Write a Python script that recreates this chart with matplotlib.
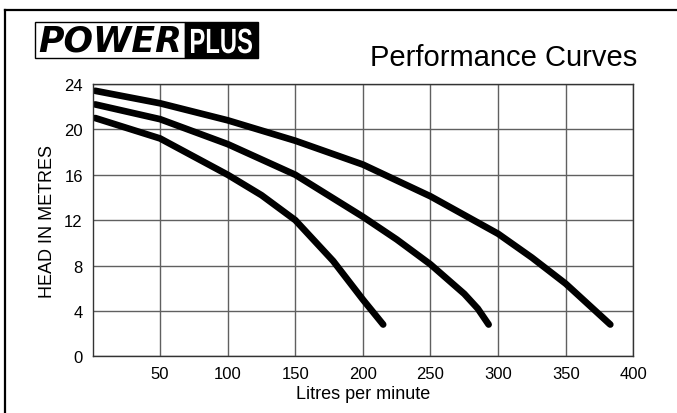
import matplotlib
matplotlib.use("Agg")
import matplotlib.pyplot as plt
from matplotlib.patches import Rectangle, PathPatch
from matplotlib.lines import Line2D
from matplotlib.textpath import TextPath
from matplotlib.font_manager import FontProperties
from matplotlib.transforms import Affine2D, IdentityTransform

plt.rcParams['font.family'] = ['Liberation Sans', 'DejaVu Sans']

# curves (litres per minute, head in metres)
top_x = [2, 50, 100, 150, 200, 250, 300, 325, 350, 383]
top_y = [23.4, 22.3, 20.8, 19.0, 16.9, 14.1, 10.8, 8.7, 6.4, 2.8]
mid_x = [2, 50, 100, 150, 200, 225, 250, 275, 285, 293]
mid_y = [22.2, 20.9, 18.7, 16.0, 12.3, 10.3, 8.1, 5.5, 4.2, 2.8]
low_x = [2, 50, 100, 125, 150, 178, 200, 215]
low_y = [21.0, 19.2, 16.0, 14.2, 12.0, 8.4, 5.0, 2.8]

x_ticks = [50, 100, 150, 200, 250, 300, 350, 400]
y_ticks = [0, 4, 8, 12, 16, 20, 24]

W, H = 677, 414
fig = plt.figure(figsize=(W / 100, H / 100), dpi=100)

def px(x, y):
    # pixel coords (from top-left) -> figure fraction
    return x / W, 1 - y / H

# page border: left and top edges only
fig.add_artist(Line2D([5 / W, 5 / W], [0, px(0, 11)[1]], color='black', lw=1.6))
fig.add_artist(Line2D([5 / W, 1], [px(0, 11)[1]] * 2, color='black', lw=1.6))

# logo
x0, y0 = px(35, 59)
fig.add_artist(Rectangle((x0, y0), 150 / W, 36 / H, facecolor='white',
                         edgecolor='black', lw=1.0))
fig.text(*px(110, 42), 'POWER', ha='center', va='center',
         fontsize=25, fontweight='heavy', fontstyle='italic', color='black',
         family='DejaVu Sans')
x0, y0 = px(185, 59)
fig.add_artist(Rectangle((x0, y0), 73 / W, 36 / H, facecolor='black',
                         edgecolor='black', lw=1.0))
# condensed "PLUS": squeeze a text path sideways
tp = TextPath((0, 0), 'PLUS', size=35,
              prop=FontProperties(family='Liberation Sans', weight='bold'))
bb = tp.get_extents()
sx = 61 / bb.width
tr = Affine2D().translate(-bb.x0 - bb.width / 2, 0).scale(sx, 1) \
    .translate(221.5, H - 54)
fig.add_artist(PathPatch(tr.transform_path(tp), facecolor='white',
                         edgecolor='none', transform=IdentityTransform()))

fig.text(*px(504, 58), 'Performance Curves', ha='center',
         va='center', fontsize=21)

l, b = px(92.5, 357.3)
r, t = px(633.3, 85)
ax = fig.add_axes([l, b, r - l, t - b])

for xs, ys in [(top_x, top_y), (mid_x, mid_y), (low_x, low_y)]:
    ax.plot(xs, ys, color='black', lw=4.8, solid_capstyle='round',
            solid_joinstyle='round')

ax.set_xlim(0, 400)
ax.set_ylim(0, 24)
ax.set_xticks(x_ticks)
ax.set_yticks(y_ticks)
ax.grid(True, color='#606060', lw=1.0)
ax.tick_params(length=0, labelsize=12, pad=7)
for s in ax.spines.values():
    s.set_color('#333333')
    s.set_linewidth(1.0)

ax.set_xlabel('Litres per minute', fontsize=13, labelpad=3)
ax.set_ylabel('HEAD IN METRES', fontsize=13, labelpad=6)

fig.savefig('out.png', dpi=100)
